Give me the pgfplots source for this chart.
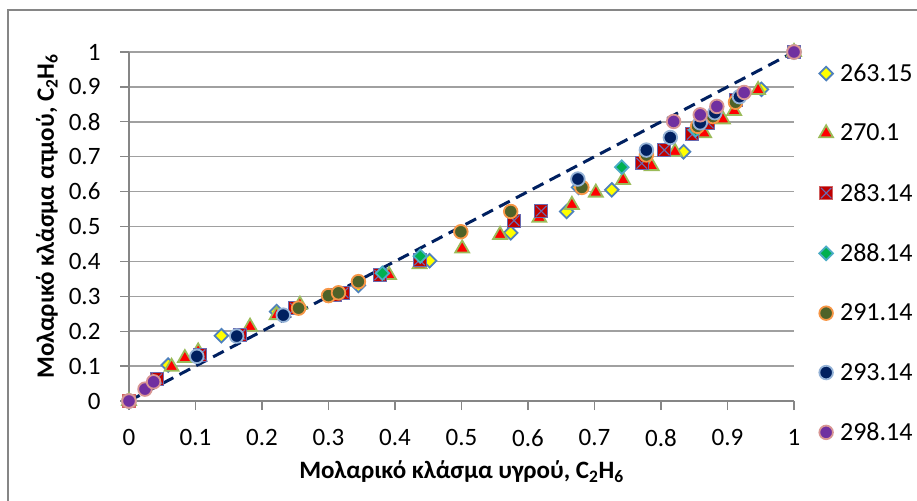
\documentclass[border=0pt]{standalone}
\usepackage{fontspec}
\setmainfont{Carlito}
\usepackage{pgfplots}
\pgfplotsset{compat=1.18}

\definecolor{framegray}{HTML}{868686}
\definecolor{gridgray}{HTML}{A0A0A0}
\definecolor{diagnavy}{HTML}{002060}
\definecolor{dYfill}{HTML}{FFFF00}
\definecolor{dYedge}{HTML}{4F81BD}
\definecolor{tRfill}{HTML}{FF0000}
\definecolor{tRedge}{HTML}{9BBB59}
\definecolor{sqfill}{HTML}{C00000}
\definecolor{sqedge}{HTML}{D06060}
\definecolor{sqcross}{HTML}{6A6AB0}
\definecolor{dGfill}{HTML}{00B050}
\definecolor{dGedge}{HTML}{4BACC6}
\definecolor{cOfill}{HTML}{4F6228}
\definecolor{cOedge}{HTML}{F79646}
\definecolor{cNfill}{HTML}{002060}
\definecolor{cNedge}{HTML}{95B3D7}
\definecolor{cPfill}{HTML}{7030A0}
\definecolor{cPedge}{HTML}{D99694}

% filled square with a diagonal cross on top
\pgfdeclareplotmark{sqx}{%
  \pgfpathrectangle{\pgfqpoint{-\pgfplotmarksize}{-\pgfplotmarksize}}{\pgfqpoint{2\pgfplotmarksize}{2\pgfplotmarksize}}%
  \pgfusepathqfillstroke
  \pgfsetstrokecolor{sqcross}%
  \pgfsetlinewidth{1.1pt}%
  \pgfpathmoveto{\pgfqpoint{-.8\pgfplotmarksize}{-.8\pgfplotmarksize}}%
  \pgfpathlineto{\pgfqpoint{.8\pgfplotmarksize}{.8\pgfplotmarksize}}%
  \pgfpathmoveto{\pgfqpoint{-.8\pgfplotmarksize}{.8\pgfplotmarksize}}%
  \pgfpathlineto{\pgfqpoint{.8\pgfplotmarksize}{-.8\pgfplotmarksize}}%
  \pgfusepathqstroke
}

\pgfplotstableread{
x y
0 0
0.059 0.103
0.139 0.187
0.222 0.256
0.345 0.331
0.452 0.402
0.574 0.482
0.658 0.543
0.676 0.612
0.726 0.605
0.834 0.714
0.951 0.893
1 1
}\tA
\pgfplotstableread{
x y
0 0
0.064 0.098
0.084 0.123
0.104 0.142
0.182 0.213
0.222 0.246
0.257 0.276
0.391 0.361
0.437 0.392
0.501 0.437
0.558 0.476
0.617 0.525
0.666 0.562
0.702 0.597
0.743 0.633
0.786 0.673
0.821 0.714
0.865 0.767
0.893 0.807
0.910 0.831
0.946 0.891
1 1
}\tB
\pgfplotstableread{
x y
0 0
0.042 0.064
0.107 0.133
0.167 0.190
0.250 0.266
0.310 0.303
0.322 0.310
0.377 0.361
0.437 0.404
0.579 0.517
0.620 0.544
0.771 0.681
0.805 0.719
0.847 0.764
0.871 0.796
0.913 0.862
1 1
}\tC
\pgfplotstableread{
x y
0 0
0.381 0.366
0.438 0.415
0.741 0.670
0.852 0.777
1 1
}\tD
\pgfplotstableread{
x y
0 0
0.255 0.266
0.300 0.302
0.315 0.310
0.345 0.342
0.499 0.485
0.574 0.543
0.681 0.612
0.778 0.705
0.855 0.787
0.878 0.815
0.912 0.856
1 1
}\tE
\pgfplotstableread{
x y
0 0
0.102 0.128
0.162 0.186
0.232 0.246
0.675 0.636
0.778 0.719
0.814 0.755
0.859 0.797
0.881 0.826
0.918 0.872
1 1
}\tF
\pgfplotstableread{
x y
0 0
0.024 0.034
0.037 0.055
0.819 0.801
0.859 0.820
0.884 0.844
0.925 0.884
1 1
}\tG

\begin{document}
\begin{tikzpicture}
\useasboundingbox (0pt,0pt) rectangle (917pt,500pt);
\draw[framegray, line width=1.3pt] (8pt,-5pt) -- (8pt,490pt) -- (925pt,490pt);
\begin{axis}[
  at={(129pt,99pt)}, anchor=south west,
  scale only axis, width=665pt, height=349pt,
  xmin=0, xmax=1, ymin=0, ymax=1,
  clip=false,
  axis lines=left,
  axis line style={-, draw=framegray, line width=1.3pt},
  ymajorgrids, grid style={gridgray, line width=1.5pt},
  tick align=outside, major tick length=9pt,
  tick style={framegray, line width=1.3pt},
  xtick={0,0.1,0.2,0.3,0.4,0.5,0.6,0.7,0.8,0.9,1},
  xticklabels={0,0.1,0.2,0.3,0.4,0.5,0.6,0.7,0.8,0.9,1},
  ytick={0,0.1,0.2,0.3,0.4,0.5,0.6,0.7,0.8,0.9,1},
  yticklabels={0,0.1,0.2,0.3,0.4,0.5,0.6,0.7,0.8,0.9,1},
  tick label style={font=\fontsize{25}{30}\selectfont},
  xticklabel style={yshift=-16pt},
  yticklabel style={xshift=-16pt},
  xlabel={Μολαρικό κλάσμα υγρού, C\textsubscript{2}H\textsubscript{6}},
  ylabel={Μολαρικό κλάσμα ατμού, C\textsubscript{2}H\textsubscript{6}},
  every axis x label/.style={at={(axis description cs:0.5,0)}, anchor=center, yshift=-71pt,
    font=\bfseries\fontsize{25}{30}\selectfont},
  every axis y label/.style={at={(axis description cs:0,0.5)}, anchor=center, xshift=-82pt, yshift=10pt, rotate=90,
    font=\bfseries\fontsize{25}{30}\selectfont},
  legend style={draw=none, fill=none, at={(rel axis cs:1.0376,0.424)}, anchor=west,
    inner sep=0pt, row sep=41pt, column sep=7pt,
    font=\fontsize{26}{30}\selectfont, nodes={inner sep=0pt}},
  legend cell align=left,
  legend image code/.code={\draw[mark repeat=2,mark phase=2] plot coordinates {(0pt,0pt)(7pt,0pt)(14pt,0pt)};},
]
% y = x reference line
\addplot[diagnavy, line width=3pt, dash pattern=on 12pt off 7pt, forget plot] coordinates {(0,0) (1,1)};

\addplot[only marks, mark=square*, mark size=4.8pt, mark options={rotate=45, fill=dYfill, draw=dYedge, line width=1.8pt}] table {\tA};
\addlegendentry{263.15}
\addplot[only marks, mark=triangle*, mark size=8pt, mark options={fill=tRfill, draw=tRedge, line width=1.8pt}] table {\tB};
\addlegendentry{270.1}
\addplot[only marks, mark=sqx, mark size=6.5pt, mark options={fill=sqfill, draw=sqedge, line width=1.3pt}] table {\tC};
\addlegendentry{283.14}
\addplot[only marks, mark=square*, mark size=4.8pt, mark options={rotate=45, fill=dGfill, draw=dGedge, line width=1.8pt}] table {\tD};
\addlegendentry{288.14}
\addplot[only marks, mark=*, mark size=6.8pt, mark options={fill=cOfill, draw=cOedge, line width=1.8pt}] table {\tE};
\addlegendentry{291.14}
\addplot[only marks, mark=*, mark size=6.8pt, mark options={fill=cNfill, draw=cNedge, line width=1.8pt}] table {\tF};
\addlegendentry{293.14}
\addplot[only marks, mark=*, mark size=6.8pt, mark options={fill=cPfill, draw=cPedge, line width=1.8pt}] table {\tG};
\addlegendentry{298.14}
\end{axis}
\end{tikzpicture}
\end{document}
